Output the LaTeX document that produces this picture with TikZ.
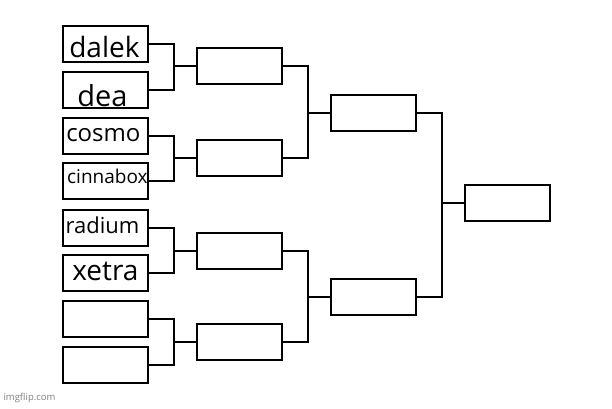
\documentclass[tikz,border=0pt]{standalone}
\usepackage{fontspec}
\setmainfont{Open Sans}
\begin{document}
\begin{tikzpicture}[x=1pt,y=-1pt,
  slot/.style={draw=black,line width=1.8pt,minimum width=85pt,minimum height=36pt,inner sep=0pt,anchor=north west},
  wire/.style={draw=black,line width=1.6pt},
  lbl/.style={anchor=center,inner sep=0pt}]
\useasboundingbox (0,0) rectangle (612,408);
\fill[white] (0,0) rectangle (612,408);
% column 1
\node[slot] (a1) at (62,25) {};
\node[slot] (a2) at (62,71) {};
\node[slot] (a3) at (62,117) {};
\node[slot] (a4) at (62,162) {};
\node[slot] (a5) at (62,209) {};
\node[slot] (a6) at (62,254) {};
\node[slot] (a7) at (62,300) {};
\node[slot] (a8) at (62,346) {};
% column 2
\node[slot] (b1) at (196,47) {};
\node[slot] (b2) at (196,139) {};
\node[slot] (b3) at (196,232) {};
\node[slot] (b4) at (196,323) {};
% column 3
\node[slot] (c1) at (330,94) {};
\node[slot] (c2) at (330,278) {};
% final
\node[slot] (d1) at (464,184) {};
% labels
\node[lbl,font=\fontsize{28}{28}\selectfont] (t1) at ([xshift=-1pt,yshift=-3pt]a1.center) {dalek};
\node[lbl,font=\fontsize{29}{29}\selectfont] (t2) at ([xshift=-3pt,yshift=-6pt]a2.center) {dea};
\node[lbl,font=\fontsize{24}{24}\selectfont] (t3) at ([xshift=-2pt,yshift=1pt]a3.center) {cosmo};
\node[lbl,font=\fontsize{19}{19}\selectfont] (t4) at ([xshift=2pt,yshift=5pt]a4.center) {cinnabox};
\node[lbl,font=\fontsize{22}{22}\selectfont] (t5) at ([xshift=-3pt,yshift=3pt]a5.center) {radium};
\node[lbl,font=\fontsize{28}{28}\selectfont] (t6) at ([xshift=0pt,yshift=2pt]a6.center) {xetra};
\node[anchor=south west,text=gray,font=\fontsize{9.5}{10}\selectfont] (wm) at (0,406) {imgflip.com};
% connectors
\foreach \p/\q/\r in {a1/a2/b1,a3/a4/b2,a5/a6/b3,a7/a8/b4,b1/b2/c1,b3/b4/c2,c1/c2/d1}{
  \draw[wire] (\p.east) -- ++(25,0) |- (\q.east);
  \draw[wire] ([xshift=25pt]\p.east) |- (\r.west);
}
\end{tikzpicture}
\end{document}
